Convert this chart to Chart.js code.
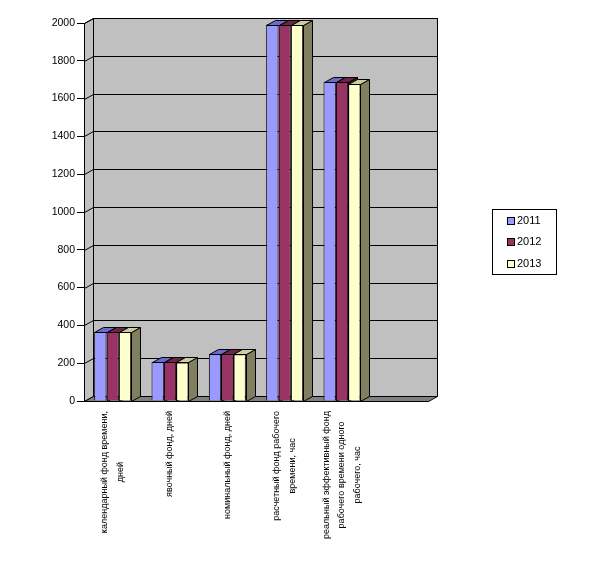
<!DOCTYPE html>
<html>
<head>
<meta charset="utf-8">
<script src="https://cdn.jsdelivr.net/npm/chart.js@4.4.1/dist/chart.umd.min.js"></script>
<style>
  html, body { margin: 0; padding: 0; background: #fff; }
  canvas { display: block; }
</style>
</head>
<body>
<canvas id="chart" width="610" height="568"></canvas>
<script>
// categories (wrapped the way the reference wraps them); the last one is empty
const categories = [
  ['календарный фонд времени,', 'дней'],
  ['явочный фонд, дней'],
  ['номинальный фонд, дней'],
  ['расчетный фонд рабочего', 'времени, час'],
  ['реальный эффективный фонд', 'рабочего времени одного', 'рабочего, час'],
  ['']
];
const years = ['2011', '2012', '2013'];
const values2011 = [365, 207, 247, 1992, 1689, null];
const values2012 = [366, 207, 247, 1992, 1689, null];
const values2013 = [365, 204, 247, 1990, 1678, null];
const yTicks = [0, 200, 400, 600, 800, 1000, 1200, 1400, 1600, 1800, 2000];

const frontColors = ['#9999ff', '#993366', '#ffffcc'];
const topColors = ['#6b6bcc', '#6e2448', '#cccca0'];
const sideColors = ['#6666aa', '#5c1f3d', '#808060'];

const DX = 9, DY = -5;

function px(v) { return Math.round(v) + 0.5; }

function poly(ctx, pts, fill) {
  ctx.beginPath();
  ctx.moveTo(pts[0][0], pts[0][1]);
  for (let i = 1; i < pts.length; i++) ctx.lineTo(pts[i][0], pts[i][1]);
  ctx.closePath();
  if (fill) { ctx.fillStyle = fill; ctx.fill(); }
  ctx.stroke();
}

function line(ctx, x1, y1, x2, y2) {
  ctx.beginPath();
  ctx.moveTo(x1, y1);
  ctx.lineTo(x2, y2);
  ctx.stroke();
}

function barBox(bar) {
  const l = Math.round(bar.x - bar.width / 2), r = Math.round(bar.x + bar.width / 2);
  return { l: l, r: r, t: Math.round(bar.y), b: Math.round(bar.base) };
}

const depthPlugin = {
  id: 'depth',
  beforeDatasetsDraw(chart) {
    const ctx = chart.ctx, a = chart.chartArea, y = chart.scales.y;
    const L = px(a.left), R = px(a.right), T = px(a.top), B = px(a.bottom);
    ctx.save();
    ctx.lineWidth = 1;
    ctx.strokeStyle = '#000';

    // back wall
    poly(ctx, [[L + DX, T + DY], [R + DX, T + DY], [R + DX, B + DY], [L + DX, B + DY]], '#c0c0c0');
    // side wall
    poly(ctx, [[L, T], [L + DX, T + DY], [L + DX, B + DY], [L, B]], '#c0c0c0');
    // floor
    poly(ctx, [[L, B], [R, B], [R + DX, B + DY], [L + DX, B + DY]], '#808080');

    // gridlines on the side and back walls
    y.ticks.forEach(t => {
      if (t.value === 0) return;
      const py = px(y.getPixelForValue(t.value));
      line(ctx, L, py, L + DX, py + DY);
      line(ctx, L + DX, py + DY, R + DX, py + DY);
    });

    // side faces of the bars (only visible where the next bar does not cover them)
    chart.data.datasets.forEach((ds, i) => {
      chart.getDatasetMeta(i).data.forEach((bar, j) => {
        if (ds.data[j] == null) return;
        const b = barBox(bar);
        poly(ctx, [[b.r + 0.5, b.t + 0.5], [b.r + 0.5 + DX, b.t + 0.5 + DY], [b.r + 0.5 + DX, b.b + 0.5 + DY], [b.r + 0.5, b.b + 0.5]], sideColors[i]);
      });
    });
    ctx.restore();
  },
  afterDatasetsDraw(chart) {
    const ctx = chart.ctx, a = chart.chartArea;
    ctx.save();
    ctx.lineWidth = 1;
    ctx.strokeStyle = '#000';
    // top faces
    chart.data.datasets.forEach((ds, i) => {
      chart.getDatasetMeta(i).data.forEach((bar, j) => {
        if (ds.data[j] == null) return;
        const b = barBox(bar);
        const t = b.t + 0.5;
        poly(ctx, [[b.l + 0.5, t], [b.r + 0.5, t], [b.r + 0.5 + DX, t + DY], [b.l + 0.5 + DX, t + DY]], topColors[i]);
      });
    });
    // front edge of the floor and the front axis line
    line(ctx, px(a.left), px(a.bottom), px(a.right), px(a.bottom));
    line(ctx, px(a.left), px(a.top), px(a.left), px(a.bottom));
    ctx.restore();
  },
  afterDraw(chart) {
    const ctx = chart.ctx, a = chart.chartArea, x = chart.scales.x;
    ctx.save();
    ctx.fillStyle = '#000';

    // category labels, rotated, each line centred on the longest one
    ctx.font = '9px "Liberation Sans", Arial, sans-serif';
    ctx.textAlign = 'center';
    ctx.textBaseline = 'middle';
    const lh = 15.7, top = a.bottom + 10;
    categories.forEach((lines, i) => {
      const cx = x.getPixelForValue(i);
      const w = Math.max.apply(null, lines.map(s => ctx.measureText(s).width));
      ctx.save();
      ctx.translate(cx, top + w / 2);
      ctx.rotate(-Math.PI / 2);
      lines.forEach((s, k) => {
        ctx.fillText(s, 0, (k - (lines.length - 1) / 2) * lh);
      });
      ctx.restore();
    });

    // legend
    const lx = 492.5, ly = 209.5, lw = 64, lhgt = 65;
    ctx.fillStyle = '#fff';
    ctx.fillRect(lx, ly, lw, lhgt);
    ctx.strokeStyle = '#000';
    ctx.lineWidth = 1;
    ctx.strokeRect(lx, ly, lw, lhgt);
    ctx.font = '11px "Liberation Sans", Arial, sans-serif';
    ctx.textAlign = 'left';
    ctx.textBaseline = 'middle';
    chart.data.datasets.forEach((ds, i) => {
      const iy = 220 + i * 21.5;
      ctx.fillStyle = ds.backgroundColor;
      ctx.fillRect(507.5, Math.round(iy - 3.5) + 0.5, 7, 7);
      ctx.strokeRect(507.5, Math.round(iy - 3.5) + 0.5, 7, 7);
      ctx.fillStyle = '#000';
      ctx.fillText(ds.label, 517, iy + 0.5);
    });
    ctx.restore();
  }
};

const seriesValues = [values2011, values2012, values2013];

new Chart(document.getElementById('chart'), {
  type: 'bar',
  data: {
    labels: categories,
    datasets: years.map((yr, i) => ({
      label: yr,
      data: seriesValues[i],
      backgroundColor: frontColors[i],
      borderColor: '#000',
      borderWidth: 1,
      categoryPercentage: 0.645,
      barPercentage: 1.0
    }))
  },
  options: {
    responsive: false,
    animation: false,
    events: [],
    layout: { padding: { left: 0, top: 23, right: 182, bottom: 167 } },
    plugins: {
      legend: { display: false },
      tooltip: { enabled: false }
    },
    scales: {
      x: {
        display: false
      },
      y: {
        min: 0,
        max: 2000,
        afterFit: function (scale) { scale.width = 84; },
        afterBuildTicks: function (scale) { scale.ticks = yTicks.map(v => ({ value: v })); },
        grid: {
          drawOnChartArea: false,
          drawTicks: true,
          tickLength: 7,
          tickColor: '#000',
          color: '#000'
        },
        border: { display: true, color: '#000' },
        ticks: {
          padding: 2,
          color: '#000',
          callback: function (value) { return String(value); },
          font: { family: '"Liberation Sans", Arial, sans-serif', size: 10.5 }
        }
      }
    }
  },
  plugins: [depthPlugin]
});
</script>
</body>
</html>
